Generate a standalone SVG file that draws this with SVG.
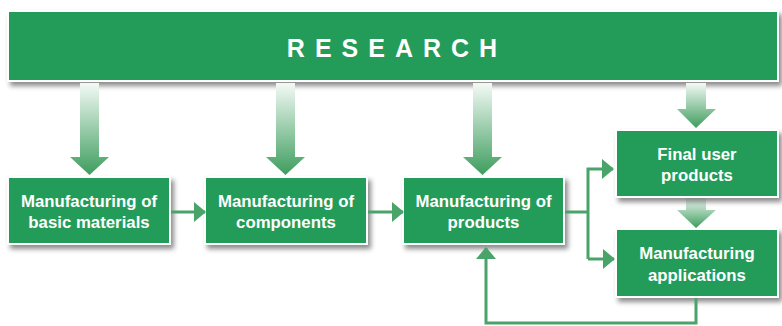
<svg xmlns="http://www.w3.org/2000/svg" width="782" height="326" viewBox="0 0 782 326">
<defs>
<filter id="sh" x="-10%" y="-20%" width="130%" height="150%">
<feDropShadow dx="3" dy="4" stdDeviation="2.5" flood-color="#000" flood-opacity="0.45"/>
</filter>
<linearGradient id="ga" x1="0" y1="0" x2="0" y2="1">
<stop offset="0" stop-color="#f4faf6"/>
<stop offset="1" stop-color="#3d9d5d"/>
</linearGradient>
<marker id="ah" viewBox="0 0 12 20" refX="11" refY="10" markerWidth="12" markerHeight="20" markerUnits="userSpaceOnUse" orient="auto">
<path d="M0,0 L12,10 L0,20 Z" fill="#4aa46a"/>
</marker>
</defs>
<style>
.box{fill:#239c58;stroke:#fff;stroke-width:2;filter:url(#sh)}
.t{font-family:"Liberation Sans",Arial,sans-serif;font-weight:bold;font-size:16.8px;fill:#fff;text-anchor:middle}
.big{font-family:"Liberation Sans",Arial,sans-serif;font-weight:bold;font-size:25px;fill:#fff;text-anchor:middle;letter-spacing:10px}
.ar{fill:url(#ga)}
.c{fill:none;stroke:#4aa46a;stroke-width:3}
</style>
<g id="research">
<rect class="box" x="8" y="11" width="770" height="70"/>
<text class="big" x="397" y="57">RESEARCH</text>
</g>
<g id="research-arrows">
<path class="ar" d="M80,83 H99 V157 H109 L89.5,175 L70,157 H80 Z"/>
<path class="ar" d="M276,83 H295 V157 H305 L285.5,175 L266,157 H276 Z"/>
<path class="ar" d="M473,83 H492 V157 H502 L482.5,175 L463,157 H473 Z"/>
<path class="ar" d="M686,83 H706 V109 H716 L696,128 L677,109 H686 Z"/>
<path class="ar" d="M686,197 H706 V210 H716 L696,228 L677,210 H686 Z"/>
</g>
<g id="n1">
<rect class="box" x="8" y="177" width="162" height="67"/>
<text class="t" x="89" y="207">Manufacturing of</text>
<text class="t" x="89" y="228">basic materials</text>
</g>
<g id="n2">
<rect class="box" x="205" y="177" width="162" height="67"/>
<text class="t" x="286" y="207">Manufacturing of</text>
<text class="t" x="286" y="228">components</text>
</g>
<g id="n3">
<rect class="box" x="403" y="177" width="161" height="67"/>
<text class="t" x="483.5" y="207">Manufacturing of</text>
<text class="t" x="483.5" y="228">products</text>
</g>
<g id="n4">
<rect class="box" x="616" y="130" width="162" height="67"/>
<text class="t" x="697" y="160">Final user</text>
<text class="t" x="697" y="181">products</text>
</g>
<g id="n5">
<rect class="box" x="616" y="229" width="162" height="68"/>
<text class="t" x="697" y="259">Manufacturing</text>
<text class="t" x="697" y="281">applications</text>
</g>
<g id="connectors">
<path class="c" d="M171,212 H205" marker-end="url(#ah)"/>
<path class="c" d="M368,212 H403" marker-end="url(#ah)"/>
<path class="c" d="M565,212 H588"/>
<path class="c" d="M588,259 V169 H613" marker-end="url(#ah)"/>
<path class="c" d="M588,259 H614" marker-end="url(#ah)"/>
<path class="c" d="M696,298 V323 H486 V248" marker-end="url(#ah)"/>
</g>
</svg>
